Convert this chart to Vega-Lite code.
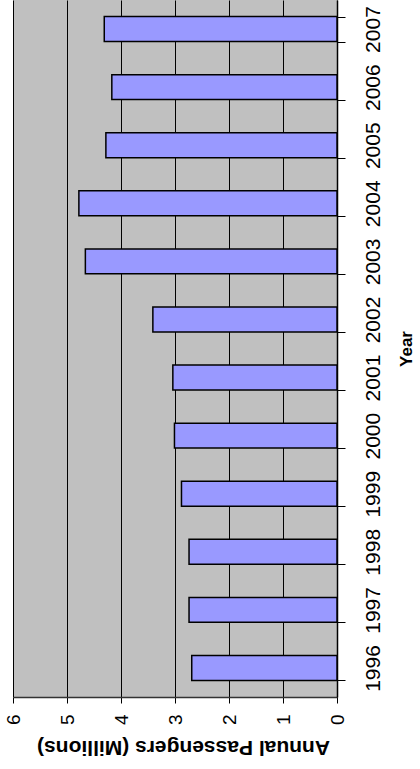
{
  "$schema": "https://vega.github.io/schema/vega-lite/v6.json",
  "width": 324,
  "height": 697,
  "autosize": {"type": "none"},
  "padding": {"left": 13, "top": 0, "right": 83, "bottom": 72},
  "background": "white",
  "view": {"fill": "#C0C0C0", "stroke": null},
  "config": {"font": "Liberation Sans"},
  "data": {
    "values": [
      {"year": "1996", "passengers": 2.69},
      {"year": "1997", "passengers": 2.74},
      {"year": "1998", "passengers": 2.74},
      {"year": "1999", "passengers": 2.88},
      {"year": "2000", "passengers": 3.01},
      {"year": "2001", "passengers": 3.04},
      {"year": "2002", "passengers": 3.41},
      {"year": "2003", "passengers": 4.66},
      {"year": "2004", "passengers": 4.78},
      {"year": "2005", "passengers": 4.28},
      {"year": "2006", "passengers": 4.17},
      {"year": "2007", "passengers": 4.31}
    ]
  },
  "mark": {"type": "bar", "fill": "#9999FF", "stroke": "#000000", "strokeWidth": 1.5},
  "encoding": {
    "y": {
      "field": "year",
      "type": "ordinal",
      "sort": "descending",
      "scale": {"paddingInner": 0.57, "paddingOuter": 0.285},
      "axis": {
        "orient": "right",
        "title": "Year",
        "titleFont": "Liberation Sans",
        "titleFontSize": 17,
        "titleFontWeight": "bold",
        "titleColor": "#000000",
        "titleAngle": -90,
        "titleBaseline": "top",
        "titlePadding": 15,
        "labelFont": "Liberation Sans",
        "labelFontSize": 21,
        "labelColor": "#000000",
        "labelAngle": -90,
        "labelAlign": "center",
        "labelBaseline": "top",
        "labelPadding": 17,
        "tickBand": "extent",
        "tickSize": 8,
        "tickColor": "#000000",
        "domainColor": "#000000",
        "domainWidth": 1.5,
        "grid": false
      }
    },
    "x": {
      "field": "passengers",
      "type": "quantitative",
      "scale": {"domain": [0, 6], "reverse": true, "nice": false},
      "axis": {
        "orient": "bottom",
        "title": "Annual Passengers (Millions)",
        "titleFont": "Liberation Sans",
        "titleFontSize": 21,
        "titleFontWeight": "bold",
        "titleColor": "#000000",
        "titleAngle": 180,
        "titleBaseline": "bottom",
        "titlePadding": 12,
        "titleX": 170,
        "values": [0, 1, 2, 3, 4, 5, 6],
        "labelFont": "Liberation Sans",
        "labelFontSize": 19,
        "labelColor": "#000000",
        "labelAngle": -90,
        "labelAlign": "right",
        "labelBaseline": "middle",
        "labelPadding": 11,
        "labelFlush": false,
        "tickSize": 6,
        "tickColor": "#000000",
        "domainColor": "#333333",
        "domainWidth": 1.5,
        "grid": true,
        "gridColor": "#000000",
        "gridWidth": 1
      }
    }
  }
}
